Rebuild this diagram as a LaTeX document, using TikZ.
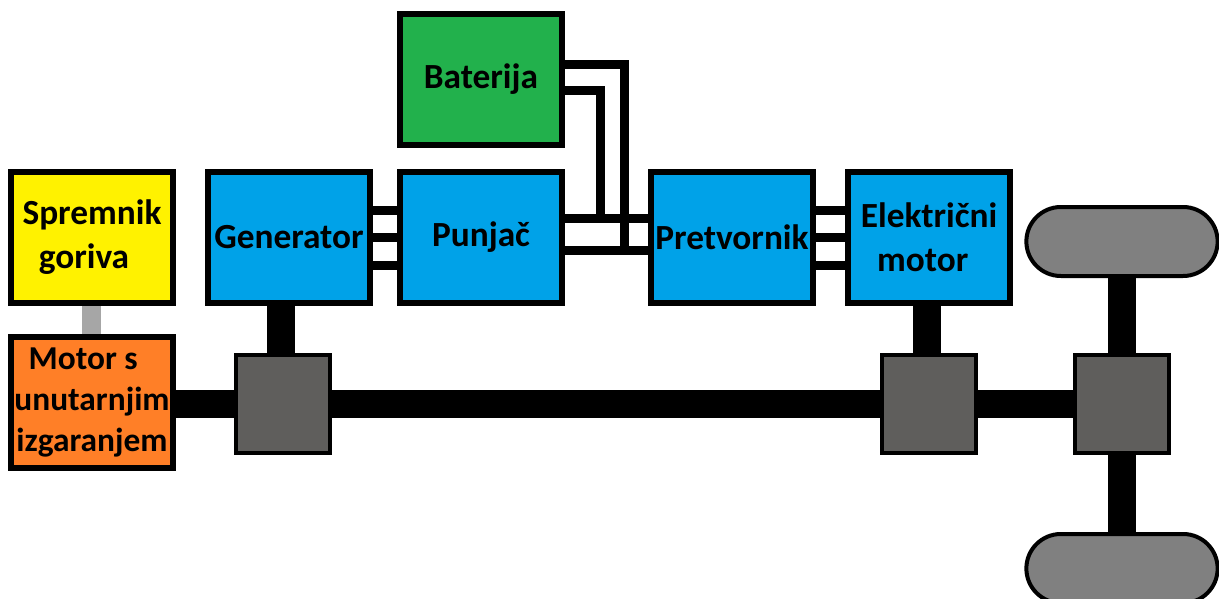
\documentclass[tikz,border=0pt]{standalone}
\usepackage{fontspec}
\setmainfont{Carlito}
\usepackage{tikz}
\usetikzlibrary{positioning}
\usetikzlibrary{shapes.misc}
\definecolor{plava}	{rgb}	{	0	,	0.6353	,	0.9098	}
\definecolor{zelena}	{rgb}	{	0.1333	,	0.6941	,	0.2980	}
\definecolor{zuta}	{rgb}	{	1	,	0.9490	,	0	}
\definecolor{narancasta}	{rgb}	{	1	,	0.4980	,	0.1529	}
\definecolor{prijenos}	{rgb}	{	0.3725	,	0.3686	,	0.3608	}
\definecolor{guma}	{rgb}	{	0.5	,	0.5	,	0.5	}
\definecolor{cijev}	{rgb}	{	0.6510	,	0.6510	,	0.6510	}
\tikzset{
  blok/.style={draw, line width=0.12cm, minimum width=3.24cm, minimum height=2.62cm,
               inner sep=0pt, align=center,
               font=\fontsize{20.1}{25}\selectfont\bfseries},
  spoj/.style={draw, fill=prijenos, line width=0.08cm, minimum width=1.88cm, minimum height=1.96cm},
  kotac/.style={draw, fill=guma, line width=0.08cm, rounded rectangle, minimum width=4.06cm, minimum height=1.38cm},
  vod/.style={line width=0.18cm},
  vratilo/.style={line width=0.56cm}
}

\begin{document}
\begin{tikzpicture}
  \useasboundingbox (0,0) rectangle (24.38,-11.98);
  \node (spremnik) [blok, fill=zuta] at (1.84,-4.75) {Spremnik\\goriva\hspace*{0.32cm}};
  \node (motor) [blok, fill=narancasta, below=0.56cm of spremnik,
                 font=\fontsize{19}{23.6}\selectfont\bfseries]
        {Motor s\hspace*{0.35cm}\\unutarnjim\\izgaranjem};
  \node (generator) [blok, fill=plava, right=0.58cm of spremnik] {Generator};
  \node (punjac) [blok, fill=plava, right=0.48cm of generator] {Punjač};
  \node (baterija) [blok, fill=zelena, above=0.42cm of punjac] {\raisebox{0.06cm}{Baterija}};
  \node (pretvornik) [blok, fill=plava, right=1.66cm of punjac] {Pretvornik};
  \node (elmotor) [blok, fill=plava, right=0.58cm of pretvornik] {Električni\\motor\hspace*{0.25cm}};

  \node (spoj1) [spoj, right=1.16cm of motor, yshift=-0.03cm] {};
  \node (spoj2) [spoj, right=10.96cm of spoj1] {};
  \node (spoj3) [spoj, right=1.9cm of spoj2] {};
  \node (kotac1) [kotac, above=1.5cm of spoj3] {};
  \node (kotac2) [kotac, below=1.54cm of spoj3] {};

  % mehanicke veze
  \draw[vratilo] (motor.east |- spoj1) -- (spoj1);
  \draw[vratilo] (spoj1) -- (spoj2);
  \draw[vratilo] (spoj2) -- (spoj3);
  \draw[vratilo] ([xshift=-0.05cm]spoj1.north) -- ([xshift=-0.05cm]spoj1.north |- generator.south);
  \draw[vratilo] ([xshift=-0.05cm]spoj2.north) -- ([xshift=-0.05cm]spoj2.north |- elmotor.south);
  \draw[vratilo] (spoj3.north) -- (kotac1.south);
  \draw[vratilo] (spoj3.south) -- (kotac2.north);
  \draw[line width=0.38cm, cijev] (spremnik.south) ++(-0.01cm,0) -- ++(0,-0.56cm);

  % elektricne veze
  \foreach \dy in {0.55,0,-0.55} {
    \draw[vod] ([yshift=\dy cm]generator.east) -- ([yshift=\dy cm]punjac.west);
    \draw[vod] ([yshift=\dy cm]pretvornik.east) -- ([yshift=\dy cm]elmotor.west);
  }
  \draw[vod] ([yshift=0.39cm]punjac.east) -- ([yshift=0.39cm]pretvornik.west);
  \draw[vod] ([yshift=-0.25cm]punjac.east) -- ([yshift=-0.25cm]pretvornik.west);
  \coordinate (gornji) at ([xshift=0.71cm,yshift=0.39cm]punjac.east);
  \coordinate (donji) at ([xshift=1.18cm,yshift=-0.25cm]punjac.east);
  \draw[vod] ([yshift=-0.21cm]baterija.east) -| (gornji);
  \draw[vod] ([yshift=0.31cm]baterija.east) -| (donji);
\end{tikzpicture}
\end{document}
